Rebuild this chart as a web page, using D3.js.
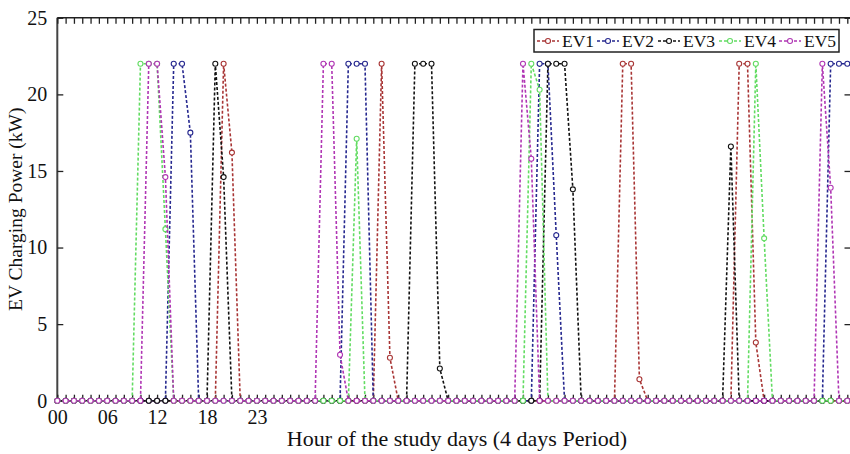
<!DOCTYPE html>
<html>
<head>
<meta charset="utf-8">
<script src="https://cdn.jsdelivr.net/npm/d3@7"></script>
<style>
  html, body { margin: 0; padding: 0; background: #ffffff; }
  svg { display: block; }
  text { font-family: "Liberation Serif", "Times New Roman", serif; fill: #111; }
</style>
</head>
<body>
<svg id="chart" width="850" height="454"></svg>
<script>
// Hourly EV charging power (kW) over a 4-day period, hour index 0..95 (12 hours per row)
const hours = d3.range(96);

const ev1 = [
  0,0,0,0,0,0,0,0,0,0,0,0,
  0,0,0,0,0,0,0,0,22,16.2,0,0,
  0,0,0,0,0,0,0,0,0,0,0,0,
  0,0,0,22,2.8,0,0,0,0,0,0,0,
  0,0,0,0,0,0,0,0,0,0,0,0,
  0,0,0,0,0,0,0,0,22,22,1.4,0,
  0,0,0,0,0,0,0,0,0,0,22,22,
  3.8,0,0,0,0,0,0,0,0,0,0,0
];
const ev2 = [
  0,0,0,0,0,0,0,0,0,0,0,0,
  0,0,22,22,17.5,0,0,0,0,0,0,0,
  0,0,0,0,0,0,0,0,0,0,0,22,
  22,22,0,0,0,0,0,0,0,0,0,0,
  0,0,0,0,0,0,0,0,0,0,22,22,
  10.8,0,0,0,0,0,0,0,0,0,0,0,
  0,0,0,0,0,0,0,0,0,0,0,0,
  0,0,0,0,0,0,0,0,0,22,22,22
];
const ev3 = [
  0,0,0,0,0,0,0,0,0,0,0,0,
  0,0,0,0,0,0,0,22,14.6,0,0,0,
  0,0,0,0,0,0,0,0,0,0,0,0,
  0,0,0,0,0,0,0,22,22,22,2.1,0,
  0,0,0,0,0,0,0,0,0,0,0,22,
  22,22,13.8,0,0,0,0,0,0,0,0,0,
  0,0,0,0,0,0,0,0,0,16.6,0,0,
  0,0,0,0,0,0,0,0,0,0,0,0
];
const ev4 = [
  0,0,0,0,0,0,0,0,0,0,22,22,
  22,11.2,0,0,0,0,0,0,0,0,0,0,
  0,0,0,0,0,0,0,0,0,0,0,0,
  17.1,0,0,0,0,0,0,0,0,0,0,0,
  0,0,0,0,0,0,0,0,0,22,20.3,0,
  0,0,0,0,0,0,0,0,0,0,0,0,
  0,0,0,0,0,0,0,0,0,0,0,0,
  22,10.6,0,0,0,0,0,0,0,0,0,0
];
const ev5 = [
  0,0,0,0,0,0,0,0,0,0,0,22,
  22,14.6,0,0,0,0,0,0,0,0,0,0,
  0,0,0,0,0,0,0,0,22,22,3.0,0,
  0,0,0,0,0,0,0,0,0,0,0,0,
  0,0,0,0,0,0,0,0,22,15.8,0,0,
  0,0,0,0,0,0,0,0,0,0,0,0,
  0,0,0,0,0,0,0,0,0,0,0,0,
  0,0,0,0,0,0,0,0,22,13.9,0,0
];

const seriesNames = ["EV1", "EV2", "EV3", "EV4", "EV5"];
const seriesValues = [ev1, ev2, ev3, ev4, ev5];
const seriesColors = ["#a83535", "#26288f", "#111111", "#62dc62", "#b036b4"];

const yTicks = [0, 5, 10, 15, 20, 25];
const xLabelHours = [0, 6, 12, 18, 24];
const xLabelTexts = ["00", "06", "12", "18", "23"];

const svg = d3.select("#chart");
const plotLeft = 57.3, plotRight = 850.5, plotTop = 17.8, plotBottom = 400.7;

const x = d3.scaleLinear().domain([0, 95]).range([plotLeft, 847.3]);
const y = d3.scaleLinear().domain([0, 25]).range([plotBottom, plotTop]);

// frame lines: left, top and bottom (right edge falls on the page boundary)
const frame = svg.append("g").attr("stroke", "#222").attr("stroke-width", 1.6);
frame.append("line").attr("x1", plotLeft).attr("x2", plotLeft).attr("y1", plotTop).attr("y2", plotBottom)
  .attr("stroke", "#444").attr("stroke-width", 2);
frame.append("line").attr("x1", plotLeft).attr("x2", plotRight).attr("y1", plotTop).attr("y2", plotTop);
frame.append("line").attr("x1", plotLeft).attr("x2", plotRight).attr("y1", plotBottom).attr("y2", plotBottom);

// hourly ticks on the top and bottom edges, pointing inward
const topAxis = svg.append("g").attr("transform", `translate(0,${plotTop})`)
  .call(d3.axisTop(x).tickValues(hours).tickSize(-6).tickFormat(""));
const botAxis = svg.append("g").attr("transform", `translate(0,${plotBottom})`)
  .call(d3.axisBottom(x).tickValues(hours).tickSize(-6).tickFormat(""));
[topAxis, botAxis].forEach(g => {
  g.select(".domain").remove();
  g.selectAll(".tick line").attr("stroke", "#222").attr("stroke-width", 1.3);
});

// y axis ticks on left and right edges
const yLeft = svg.append("g").attr("transform", `translate(${plotLeft},0)`)
  .call(d3.axisLeft(y).tickValues(yTicks).tickSize(-6).tickPadding(10).tickFormat(d3.format("d")));
yLeft.select(".domain").remove();
yLeft.selectAll(".tick line").attr("stroke", "#222").attr("stroke-width", 1.3);
yLeft.selectAll(".tick text").attr("font-size", 20).attr("font-family", "Liberation Serif").attr("fill", "#111");

const yRight = svg.append("g").attr("transform", `translate(${plotRight},0)`)
  .call(d3.axisRight(y).tickValues(yTicks).tickSize(-6).tickFormat(""));
yRight.select(".domain").remove();
yRight.selectAll(".tick line").attr("stroke", "#222").attr("stroke-width", 1.3);

// hour labels
const xLab = svg.append("g").attr("transform", `translate(0,${plotBottom})`)
  .call(d3.axisBottom(x).tickValues(xLabelHours).tickSize(0).tickPadding(9)
    .tickFormat((d, i) => xLabelTexts[i]));
xLab.select(".domain").remove();
xLab.selectAll(".tick text").attr("font-size", 20).attr("font-family", "Liberation Serif").attr("fill", "#111");

// series: dashed lines with open circle markers
const line = d3.line().x((d, i) => x(hours[i])).y(d => y(d));
seriesValues.forEach((vals, k) => {
  const g = svg.append("g");
  g.append("path").datum(vals)
    .attr("d", line)
    .attr("fill", "none")
    .attr("stroke", seriesColors[k])
    .attr("stroke-width", 1.6)
    .attr("stroke-dasharray", "3,2");
  g.selectAll("circle").data(vals).join("circle")
    .attr("cx", (d, i) => x(hours[i]))
    .attr("cy", d => y(d))
    .attr("r", 2.5)
    .attr("fill", "#fff")
    .attr("stroke", seriesColors[k])
    .attr("stroke-width", 1.1);
});

// axis titles
svg.append("text")
  .attr("x", 457).attr("y", 446)
  .attr("text-anchor", "middle").attr("font-size", 22)
  .text("Hour of the study days (4 days Period)");
svg.append("text")
  .attr("transform", `translate(22,${(plotTop + plotBottom) / 2}) rotate(-90)`)
  .attr("text-anchor", "middle").attr("font-size", 19.5)
  .text("EV Charging Power (kW)");

// legend
const lg = svg.append("g");
lg.append("rect").attr("x", 534).attr("y", 29.5).attr("width", 305).attr("height", 22.5)
  .attr("fill", "#fff").attr("stroke", "#222").attr("stroke-width", 1.5);
const legendX = [537, 597, 658, 719, 779];
seriesNames.forEach((name, k) => {
  const x0 = legendX[k], yc = 41;
  lg.append("line").attr("x1", x0).attr("x2", x0 + 22).attr("y1", yc).attr("y2", yc)
    .attr("stroke", seriesColors[k]).attr("stroke-width", 1.5).attr("stroke-dasharray", "3,2");
  lg.append("circle").attr("cx", x0 + 11).attr("cy", yc).attr("r", 2.5)
    .attr("fill", "#fff").attr("stroke", seriesColors[k]).attr("stroke-width", 1.1);
  lg.append("text").attr("x", x0 + 25).attr("y", yc + 6).attr("font-size", 17.5).text(name);
});
</script>
</body>
</html>
